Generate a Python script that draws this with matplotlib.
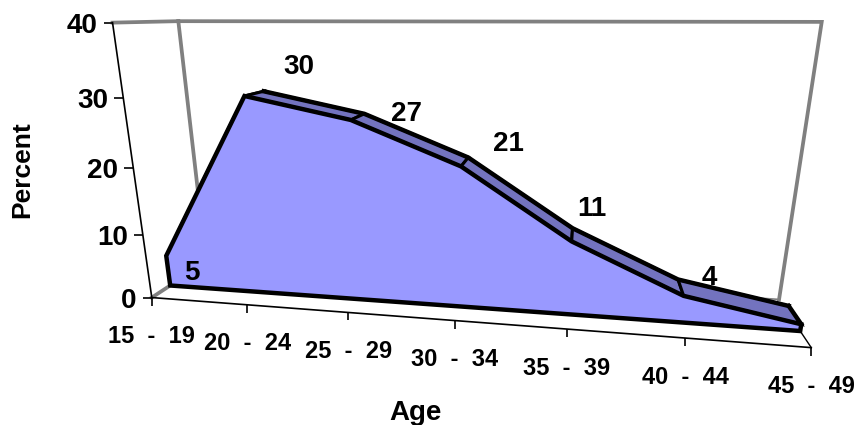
import numpy as np
import matplotlib
matplotlib.use("Agg")
import matplotlib.pyplot as plt
from matplotlib.markers import TICKDOWN, TICKLEFT
from matplotlib.transforms import Transform, Bbox

# ---------- data ----------
age_groups = ["15 - 19", "20 - 24", "25 - 29", "30 - 34", "35 - 39", "40 - 44", "45 - 49"]
percent = [5, 30, 27, 21, 11, 4, 1]
shown_labels = ["5", "30", "27", "21", "11", "4", ""]
y_ticks = [0, 10, 20, 30, 40]
x_title = "Age"
y_title = "Percent"

# ---------- styles ----------
FILL = "#9999FF"
BAND = "#7373BF"
GRID = "#808080"
FONT = "Liberation Sans"
plt.rcParams["font.family"] = FONT
plt.rcParams["font.weight"] = "bold"
DEPTH_FRONT, DEPTH_BACK = 0.31, 0.70
label_offsets = [(4, 30), (35, -24), (42, 0), (40, -14), (19, -19), (31, -1), (0, 0)]

# camera calibration from the axis frame: (category, value, depth) -> pixel
frame = [
    (0, 0, 0, 152, 297), (1, 0, 0, 248, 305), (2, 0, 0, 348, 313), (3, 0, 0, 455, 321),
    (4, 0, 0, 567, 330), (5, 0, 0, 684, 338), (6, 0, 0, 811, 347),
    (0, 10, 0, 143, 235), (0, 20, 0, 133, 167), (0, 30, 0, 123, 97), (0, 40, 0, 113, 23),
    (0, 40, 1, 178, 22), (6, 40, 1, 822, 22), (6, 0, 1, 779, 298),
    (0, 0, DEPTH_FRONT, 170, 286), (6, 0, DEPTH_FRONT, 801, 332),
]


def fit_camera(rows):
    A = []
    for c, v, d, px, py in rows:
        X = [c / 6, v / 40, d, 1]
        u, w = px / 500, py / 500
        A.append(X + [0, 0, 0, 0] + [-u * k for k in X])
        A.append([0, 0, 0, 0] + X + [-w * k for k in X])
    return np.linalg.svd(np.array(A))[2][-1].reshape(3, 4)


CAMERA = fit_camera(frame)


class Plane(Transform):
    """Perspective projection of (category, value) on a plane of given depth."""
    input_dims = output_dims = 2
    is_separable = False
    has_inverse = False

    def __init__(self, plane_depth):
        super().__init__()
        self.plane_depth = plane_depth

    def transform_non_affine(self, values):
        values = np.asarray(values, float)
        n = len(values)
        X = np.column_stack([values[:, 0] / 6, values[:, 1] / 40, np.full(n, self.plane_depth), np.ones(n)])
        h = X @ CAMERA.T
        return 500 * h[:, :2] / h[:, 2:3]


fig = plt.figure(figsize=(8.55, 4.25), dpi=100)
ax = fig.add_axes([0, 0, 1, 1])
ax.set_xlim(0, 855)
ax.set_ylim(425, 0)
ax.axis("off")

on = lambda d: Plane(d) + ax.transData
cats = np.arange(len(age_groups))
vals = np.array(percent, float)
zero = np.zeros_like(vals)
top = y_ticks[-1]
last = cats[-1]

# back wall
ax.plot([0, 0], [top, 0], color=GRID, lw=2.7, transform=on(1), zorder=1)
ax.plot([0, last, last], [top, top, 0], color=GRID, lw=2.7, transform=on(1), zorder=1, solid_joinstyle="miter")
ax.plot([0, last], [0, 0], color=GRID, lw=1.2, transform=on(1), zorder=1)
# left side wall top + floor edge, drawn along depth
for c, v, col, lw in [(0, top, GRID, 2.7), (0, 0, GRID, 2.7), (last, 0, "black", 1.0)]:
    p0 = on(0).transform([(c, v)])[0]
    p1 = on(DEPTH_FRONT if v == 0 else 1).transform([(c, v)])[0]
    pts = ax.transData.inverted().transform([p0, p1])
    ax.plot(pts[:, 0], pts[:, 1], color=col, lw=lw, zorder=1.5)

# axes with ticks
ax.plot(cats, zero, color="black", lw=1.2, marker=TICKDOWN, ms=6, mew=1.2, transform=on(0), zorder=2)
ax.plot(np.zeros(len(y_ticks)), y_ticks, color="black", lw=1.2, marker=TICKLEFT, ms=6.5, mew=1.2,
        transform=on(0), zorder=2)

# top band of the area
for i in range(len(cats) - 1):
    xs = [cats[i], cats[i + 1]]
    ys = [vals[i], vals[i + 1]]
    P0 = on(DEPTH_FRONT).transform(np.column_stack([xs, ys]))
    P1 = on(DEPTH_BACK).transform(np.column_stack([xs, ys]))
    q = ax.transData.inverted().transform(np.vstack([P0, P1[::-1]]))
    ax.fill(q[:, 0], q[:, 1], facecolor=BAND, edgecolor="black", lw=2.2, zorder=3, joinstyle="miter")
ax.plot(cats[1:], vals[1:], color="black", lw=3.2, transform=on(DEPTH_BACK), zorder=3.2, solid_joinstyle="miter")
# right end cap edge
p = ax.transData.inverted().transform(np.vstack([
    on(DEPTH_FRONT).transform([(last, vals[-1])]), on(DEPTH_BACK).transform([(last, vals[-1])])]))
ax.plot(p[:, 0], p[:, 1], color="black", lw=3.2, zorder=3.2)

# front face
ax.fill(np.r_[cats, cats[::-1]], np.r_[vals, zero[::-1]], facecolor=FILL, edgecolor="black", lw=3.2,
        transform=on(DEPTH_FRONT), zorder=4, joinstyle="miter")

# texts
for c, s, off in zip(cats, shown_labels, label_offsets):
    v = percent[c]
    ax.annotate(s, xy=(c, v), xycoords=on(DEPTH_BACK), xytext=(off[0], -off[1]), textcoords="offset pixels",
                ha="center", va="center", fontsize=20, zorder=6)
for c, s in zip(cats, age_groups):
    ax.annotate(s.replace(" - ", "  -  "), xy=(c, 0), xycoords=on(0), xytext=(0, -39), textcoords="offset pixels",
                ha="center", va="center", fontsize=17, zorder=6)
for v in y_ticks:
    ax.annotate(str(v), xy=(0, v), xycoords=on(0), xytext=(-15, -3), textcoords="offset pixels",
                ha="right", va="center", fontsize=20, zorder=6)

ax.text(415, 413, x_title, ha="center", va="center", fontsize=20)
yt = ax.text(22, 170, y_title, rotation=90, ha="center", va="center", fontsize=19)
yt.set_clip_box(Bbox([[0, 0], [855, 425 - 124]]))
yt.set_clip_on(True)

fig.savefig("out.png", dpi=100)
